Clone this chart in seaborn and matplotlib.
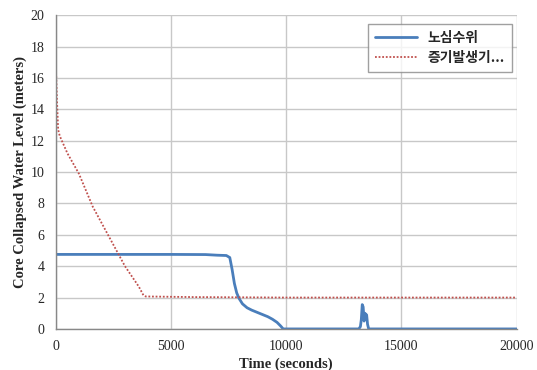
import matplotlib
matplotlib.use("Agg")
import matplotlib.pyplot as plt
import pandas as pd
import seaborn as sns

# core collapsed water level (노심수위)
core_t = [0, 1000, 3000, 5000, 6500, 7000, 7400, 7550, 7650, 7750, 7850, 7950,
          8100, 8300, 8500, 8700, 9000, 9200, 9400, 9600, 9750, 9870, 10000,
          13150, 13220, 13260, 13300, 13340, 13380, 13420, 13450, 13490, 13530,
          13580, 20000]
core_v = [4.75, 4.75, 4.75, 4.75, 4.74, 4.70, 4.68, 4.55, 3.8, 2.9, 2.3, 1.95,
          1.6, 1.35, 1.2, 1.08, 0.9, 0.78, 0.62, 0.42, 0.2, 0.0, 0.0,
          0.0, 0.15, 0.6, 1.55, 1.4, 0.5, 1.0, 0.9, 0.9, 0.3,
          0.0, 0.0]

# steam generator level (증기발생기)
sg_t = [0, 50, 100, 170, 500, 1000, 1600, 2300, 3000, 3600, 3800, 3900,
        6000, 10000, 15000, 20000]
sg_v = [16.8, 14.5, 12.7, 12.3, 11.2, 9.9, 7.8, 5.9, 4.0, 2.7, 2.15, 2.07,
        2.03, 2.0, 2.0, 2.0]

series_names = ["노심수위", "증기발생기..."]
x_ticks = [0, 5000, 10000, 15000, 20000]
y_ticks = list(range(0, 21, 2))

core_df = pd.DataFrame({"t": core_t, "v": core_v})
sg_df = pd.DataFrame({"t": sg_t, "v": sg_v})

sns.set_style("whitegrid")
plt.rcParams["font.family"] = ["Liberation Serif", "Noto Sans CJK KR"]

fig = plt.figure(figsize=(5.37, 3.70), dpi=100)
ax = fig.add_axes([0.104, 0.111, 0.858, 0.848])

sns.lineplot(data=core_df, x="t", y="v", ax=ax, color="#4A7EBB", linewidth=2,
             label=series_names[0])
sns.lineplot(data=sg_df, x="t", y="v", ax=ax, color="#C0504D", linewidth=1.3,
             linestyle=(0, (1, 1)), label=series_names[1])

ax.set_xlim(0, 20000)
ax.set_ylim(0, 20)
ax.set_xticks(x_ticks)
ax.set_yticks(y_ticks)
ax.tick_params(labelsize=10, length=0, pad=8)
ax.grid(True, color="#c8c8c8", linewidth=1)
for s in ["top", "right"]:
    ax.spines[s].set_visible(False)
for s in ["left", "bottom"]:
    ax.spines[s].set_color("#888888")
    ax.spines[s].set_linewidth(1)

ax.set_xlabel("Time (seconds)", fontsize=10.5, fontweight="bold", labelpad=3)
ax.set_ylabel("Core Collapsed Water Level (meters)", fontsize=10.5,
              fontweight="bold", labelpad=3)

leg = ax.legend(loc="upper right", bbox_to_anchor=(1.005, 0.995),
                prop={"family": ["Noto Sans CJK KR"], "size": 10, "weight": "bold"},
                frameon=True, fancybox=False, edgecolor="#888888",
                handlelength=3, borderpad=0.5, labelspacing=0.45)
leg.get_frame().set_linewidth(1)

fig.savefig("out.png", dpi=100)
